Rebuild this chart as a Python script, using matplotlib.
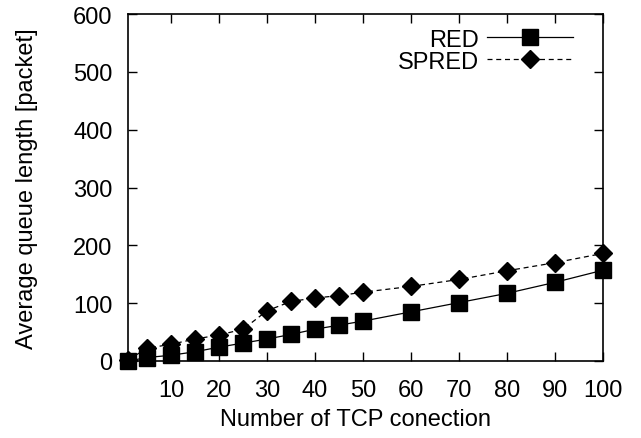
import matplotlib
matplotlib.use("Agg")
import matplotlib.pyplot as plt

plt.rcParams["font.family"] = ["Liberation Sans", "DejaVu Sans"]
plt.rcParams["font.size"] = 17

connections = [1, 5, 10, 15, 20, 25, 30, 35, 40, 45, 50, 60, 70, 80, 90, 100]
red_queue = [0, 6, 10, 16, 24, 31, 38, 46, 55, 62, 69, 85, 101, 117, 136, 157]
spred_queue = [2, 22, 29, 38, 45, 55, 87, 103, 109, 113, 119, 129, 141, 156, 170, 186]

x_ticks = [10, 20, 30, 40, 50, 60, 70, 80, 90, 100]
y_ticks = [0, 100, 200, 300, 400, 500, 600]

fig = plt.figure(figsize=(6.41, 4.39), dpi=100)
ax = fig.add_axes([128 / 641, 1 - 362 / 439, 475 / 641, 347 / 439])

ax.plot(connections, red_queue, color="black", linewidth=0.9, marker="s",
        markersize=11.5, label="RED", clip_on=False, zorder=3)
ax.plot(connections, spred_queue, color="black", linewidth=0.9, linestyle=(0, (4, 3)),
        marker="D", markersize=9.5, label="SPRED", clip_on=False, zorder=3)

ax.set_xlim(1, 100)
ax.set_ylim(0, 600)
ax.set_xticks(x_ticks)
ax.set_yticks(y_ticks)
ax.tick_params(direction="in", length=6.5, width=1, top=True, right=True)
ax.tick_params(axis="x", pad=13)
ax.tick_params(axis="y", pad=11)
for s in ax.spines.values():
    s.set_linewidth(1.2)

ax.set_xlabel("Number of TCP conection")
ax.set_ylabel("Average queue length [packet]")
ax.yaxis.set_label_coords(-0.19, 0.5)
ax.xaxis.set_label_coords(0.48, -0.135)

ax.legend(loc="upper right", bbox_to_anchor=(1 - 25 / 475, 1 - 10 / 347), frameon=False,
          markerfirst=False, handlelength=3.65, handletextpad=0.34,
          labelspacing=0.0, borderaxespad=0.0, borderpad=0.2)

fig.savefig("out.png", dpi=100)
